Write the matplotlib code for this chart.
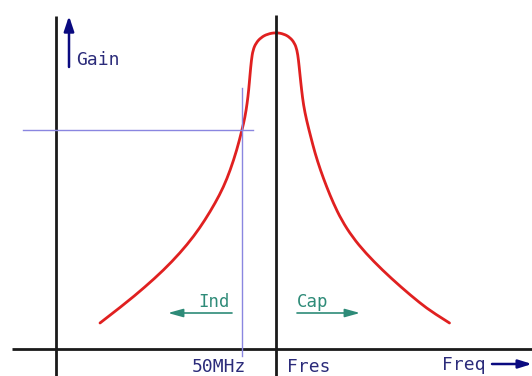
import matplotlib
matplotlib.use("Agg")
import matplotlib.pyplot as plt
from matplotlib.path import Path
from matplotlib.patches import PathPatch

# Resonance response sketch: frequency (horizontal) vs gain (vertical),
# units measured from the origin of the drawn axes.
freq = [44, 67.4, 89, 107.7, 124, 138, 149, 159.2, 167.5, 174.3, 180.8,
        186, 189, 191.2, 192.7, 194, 195.4, 197, 200, 205, 211.5, 220,
        228, 234, 238.5, 241, 242.5, 244, 245.6, 247.5, 250.5, 254.8, 259,
        264.4, 270.7, 277.3, 285.5, 296.4, 309.6, 326.3, 344.9, 363.9,
        377.5, 393.5]
gain = [26, 44, 62, 79, 96, 113, 129, 146, 162, 179, 199,
        219, 232, 246, 259, 274, 289, 299, 306, 311.5, 315, 316.5,
        315, 311.5, 306, 299, 289, 274, 259, 244, 229, 212, 196,
        179, 162, 146, 129, 112, 96, 79, 62, 46,
        36, 26]

f_res = 220        # resonance frequency position
f_50mhz = 186      # marker frequency (50 MHz)
g_50mhz = 219      # gain at the marker

labels = {"gain": "Gain", "freq": "Freq", "fres": "Fres", "mark": "50MHz",
          "ind": "Ind", "cap": "Cap"}

NAVY = "#2b2b7a"
TEAL = "#2e8b78"
GUIDE = "#8a86e0"
AXIS = "#1a1a1a"
RED = "#e02020"
FONT = "DejaVu Sans Mono"

fig = plt.figure(figsize=(5.32, 3.76), dpi=100)
ax = fig.add_axes([0, 0, 1, 1])
ax.set_xlim(-56, 476)
ax.set_ylim(-27, 349)
ax.axis("off")

# axes of the sketch
ax.plot([-44, 476], [0, 0], color=AXIS, lw=2.0, solid_capstyle="butt")
ax.plot([0, 0], [-27, 333], color=AXIS, lw=2.0, solid_capstyle="butt")
ax.plot([f_res, f_res], [-27, 334], color=AXIS, lw=2.0, solid_capstyle="butt")

# guide lines through the 50 MHz point
ax.plot([-33, 197], [g_50mhz, g_50mhz], color=GUIDE, lw=1.0)
ax.plot([f_50mhz, f_50mhz], [-7, 261], color=GUIDE, lw=1.0)

# response curve, smoothed with quadratic segments between the points
pts = list(zip(freq, gain))
verts = [pts[0]]
codes = [Path.MOVETO]
for i in range(1, len(pts) - 1):
    nxt = pts[i + 1]
    end = nxt if i == len(pts) - 2 else ((pts[i][0] + nxt[0]) / 2,
                                         (pts[i][1] + nxt[1]) / 2)
    verts += [pts[i], end]
    codes += [Path.CURVE3, Path.CURVE3]
ax.add_patch(PathPatch(Path(verts, codes), facecolor="none", edgecolor=RED,
                       lw=2.0, capstyle="round", joinstyle="round"))

# Gain arrow
ax.annotate("", xy=(13, 333), xytext=(13, 282),
            arrowprops=dict(arrowstyle="-|>,head_length=0.9,head_width=0.3",
                            color="#0a0a80", lw=1.8, shrinkA=0, shrinkB=0))
ax.text(20, 289, labels["gain"], color=NAVY, fontsize=13, family=FONT,
        ha="left", va="center")

# Ind / Cap arrows
ax.annotate("", xy=(112, 36), xytext=(176, 36),
            arrowprops=dict(arrowstyle="-|>,head_length=0.9,head_width=0.25",
                            color=TEAL, lw=1.2, shrinkA=0, shrinkB=0))
ax.text(174, 47, labels["ind"], color=TEAL, fontsize=12.5, family=FONT,
        ha="right", va="center")
ax.annotate("", xy=(304, 36), xytext=(241, 36),
            arrowprops=dict(arrowstyle="-|>,head_length=0.9,head_width=0.25",
                            color=TEAL, lw=1.2, shrinkA=0, shrinkB=0))
ax.text(241, 47, labels["cap"], color=TEAL, fontsize=12.5, family=FONT,
        ha="left", va="center")

# frequency labels
ax.text(163, -26.5, labels["mark"], color=NAVY, fontsize=13, family=FONT,
        ha="center", va="bottom")
ax.text(231, -26.5, labels["fres"], color=NAVY, fontsize=13, family=FONT,
        ha="left", va="bottom")
ax.text(386, -16, labels["freq"], color=NAVY, fontsize=13, family=FONT,
        ha="left", va="center")
ax.annotate("", xy=(476, -15), xytext=(436, -15),
            arrowprops=dict(arrowstyle="-|>,head_length=0.8,head_width=0.25",
                            color="#0a0a80", lw=1.8, shrinkA=0, shrinkB=0))

fig.savefig("out.png", dpi=100)
